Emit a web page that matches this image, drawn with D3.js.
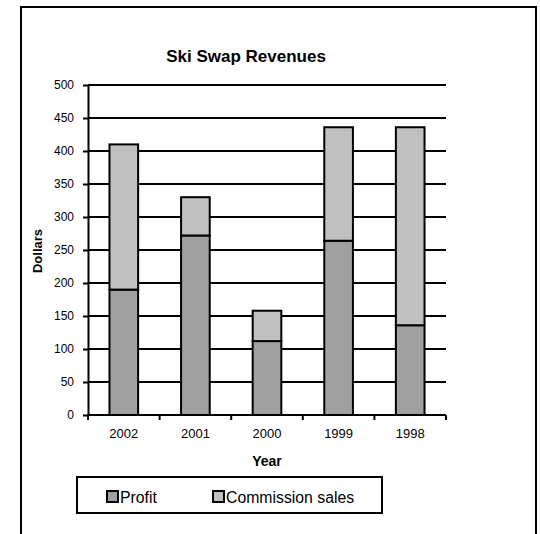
<!DOCTYPE html>
<html>
<head>
  <meta charset="utf-8">
  <title>Ski Swap Revenues</title>
  <script src="https://cdn.jsdelivr.net/npm/d3@7"></script>
  <style>
    body { margin: 0; background: #fff; }
    text { font-family: "Liberation Sans", Arial, sans-serif; fill: #000; }
  </style>
</head>
<body>
<script>
// data
const years = ["2002", "2001", "2000", "1999", "1998"];
const profit = [190, 272, 112, 264, 136];
const commission = [220, 58, 46, 172, 300];
const yTicks = [0, 50, 100, 150, 200, 250, 300, 350, 400, 450, 500];
const seriesNames = ["Profit", "Commission sales"];
const colors = ["#a0a0a0", "#c0c0c0"];

const W = 540, H = 534;
const plotL = 88, plotR = 446, plotT = 85, plotB = 415;
const lw = 2;

const svg = d3.select("body").append("svg")
  .attr("width", W).attr("height", H);

// outer frame (bottom runs off the page)
svg.append("rect")
  .attr("x", 21).attr("y", 7)
  .attr("width", 515).attr("height", 560)
  .attr("fill", "none").attr("stroke", "#000").attr("stroke-width", lw);

const x = d3.scaleBand().domain(years).range([plotL, plotR])
  .paddingInner(0.6).paddingOuter(0.3);
const y = d3.scaleLinear().domain([0, 500]).range([plotB, plotT]);

// gridlines
svg.append("g").selectAll("line")
  .data(yTicks.filter(d => d > 0))
  .enter().append("line")
  .attr("x1", plotL).attr("x2", plotR)
  .attr("y1", d => y(d)).attr("y2", d => y(d))
  .attr("stroke", "#000").attr("stroke-width", lw);

// stacked bars
const table = years.map((yr, i) => ({ year: yr, profit: profit[i], commission: commission[i] }));
const stack = d3.stack().keys(["profit", "commission"])(table);

svg.append("g").selectAll("g")
  .data(stack)
  .enter().append("g")
  .attr("fill", (d, i) => colors[i])
  .selectAll("rect")
  .data(d => d)
  .enter().append("rect")
  .attr("x", d => x(d.data.year))
  .attr("width", x.bandwidth())
  .attr("y", d => y(d[1]))
  .attr("height", d => y(d[0]) - y(d[1]))
  .attr("stroke", "#000").attr("stroke-width", lw);

// y axis
const yAxis = svg.append("g")
  .attr("transform", "translate(" + plotL + ",0)")
  .call(d3.axisLeft(y).tickValues(yTicks).tickSize(5).tickSizeOuter(0).tickPadding(9));
yAxis.select(".domain").attr("stroke-width", lw);
yAxis.selectAll(".tick line").attr("stroke-width", lw);
yAxis.selectAll("text").style("font-size", "12px").attr("fill", "#000");

// x axis: ticks at category boundaries
const xg = svg.append("g").attr("transform", "translate(0," + plotB + ")");
xg.append("line").attr("x1", plotL - 1).attr("x2", plotR)
  .attr("stroke", "#000").attr("stroke-width", lw);
const bounds = d3.range(years.length + 1).map(i => plotL + i * x.step());
xg.selectAll(".bt").data(bounds).enter().append("line")
  .attr("x1", d => d).attr("x2", d => d)
  .attr("y1", 0).attr("y2", 5)
  .attr("stroke", "#000").attr("stroke-width", lw);
xg.selectAll(".lbl").data(years).enter().append("text")
  .attr("x", d => x(d) + x.bandwidth() / 2)
  .attr("y", 23)
  .attr("text-anchor", "middle")
  .style("font-size", "13px")
  .text(d => d);

// titles
svg.append("text")
  .attr("x", 246).attr("y", 62)
  .attr("text-anchor", "middle")
  .style("font-size", "17px").style("font-weight", "bold")
  .text("Ski Swap Revenues");

svg.append("text")
  .attr("x", 267).attr("y", 466)
  .attr("text-anchor", "middle")
  .style("font-size", "14px").style("font-weight", "bold")
  .text("Year");

svg.append("text")
  .attr("transform", "translate(42,251) rotate(-90)")
  .attr("text-anchor", "middle")
  .style("font-size", "13px").style("font-weight", "bold")
  .text("Dollars");

// legend
const lg = svg.append("g");
lg.append("rect")
  .attr("x", 77).attr("y", 477).attr("width", 305).attr("height", 36)
  .attr("fill", "none").attr("stroke", "#000").attr("stroke-width", lw);
const legendX = [107, 213];
const items = lg.selectAll(".item").data(seriesNames).enter().append("g")
  .attr("transform", (d, i) => "translate(" + legendX[i] + ",491)");
items.append("rect")
  .attr("width", 11).attr("height", 11)
  .attr("fill", (d, i) => colors[i])
  .attr("stroke", "#000").attr("stroke-width", lw);
items.append("text")
  .attr("x", 13).attr("y", 12)
  .style("font-size", "15.8px")
  .text(d => d);
</script>
</body>
</html>
